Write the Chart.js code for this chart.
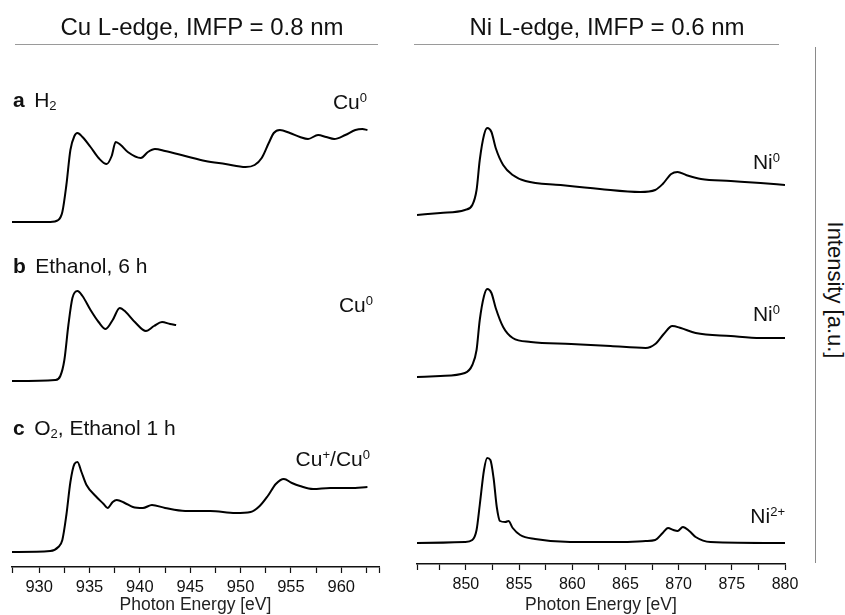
<!DOCTYPE html>
<html lang="en">
<head>
<meta charset="UTF-8">
<title>Cu and Ni L-edge spectra</title>
<script src="https://cdn.jsdelivr.net/npm/chart.js"></script>
<style>
  body { margin: 0; background: #fff; font-family: "Liberation Sans", Arial, sans-serif; color: #111; }
  #page { position: relative; width: 845px; height: 615px; overflow: hidden; }
  canvas { position: absolute; top: 0; }
  .txt { position: absolute; white-space: nowrap; line-height: 1; font-size: 21px; }
  .title { font-size: 24px; transform: translateX(-50%); }
  .rule { position: absolute; height: 1px; background: #9a9a9a; }
  .vline { position: absolute; width: 1px; background: #8a8a8a; }
  sub, sup { font-size: 0.62em; line-height: 0; }
  sub { vertical-align: -0.25em; }
  sup { vertical-align: 0.55em; }
  b { margin-right: 0.45em; }
</style>
</head>
<body>
<div id="page">
  <canvas id="cuChart" width="400" height="615" style="left:0"></canvas>
  <canvas id="niChart" width="400" height="615" style="left:405px"></canvas>

  <div class="txt title" style="left:202px; top:15px">Cu L-edge, IMFP = 0.8 nm</div>
  <div class="txt title" style="left:607px; top:15px">Ni L-edge, IMFP = 0.6 nm</div>
  <div class="rule" style="left:15px; top:44px; width:363px"></div>
  <div class="rule" style="left:414px; top:44px; width:365px"></div>
  <div class="vline" style="left:815px; top:47px; height:516px"></div>

  <div class="txt" style="left:13px; top:89px"><b>a</b>H<sub>2</sub></div>
  <div class="txt" style="right:478px; top:91px">Cu<sup>0</sup></div>
  <div class="txt" style="left:13px; top:255px"><b>b</b>Ethanol, 6 h</div>
  <div class="txt" style="right:472px; top:294px">Cu<sup>0</sup></div>
  <div class="txt" style="left:13px; top:417px"><b>c</b>O<sub>2</sub>, Ethanol 1 h</div>
  <div class="txt" style="right:475px; top:448px">Cu<sup>+</sup>/Cu<sup>0</sup></div>
  <div class="txt" style="right:65px; top:151px">Ni<sup>0</sup></div>
  <div class="txt" style="right:65px; top:303px">Ni<sup>0</sup></div>
  <div class="txt" style="right:60px; top:505px">Ni<sup>2+</sup></div>
  <div class="txt" style="left:835px; top:290px; font-size:22px; transform: translate(-50%, -50%) rotate(90deg)">Intensity [a.u.]</div>
</div>
<script>
// Cu L-edge, photon energy (eV) and intensity (a.u., stacked with offsets)
const cuEnergyA = [927.3, 931.1, 931.9, 932.3, 932.7, 933.1, 933.5, 933.8, 934.3, 935.1, 935.9, 936.7, 937.2, 937.6, 938.1, 938.8, 940.1, 940.8, 941.5, 942.5, 944.5, 946.5, 948.5, 950.5, 951.4, 952.1, 952.8, 953.3, 953.9, 954.9, 955.9, 956.7, 957.7, 958.5, 959.3, 960.4, 961.4, 962.1, 962.6];
const cuIntensityA = [3.45, 3.45, 3.47, 3.55, 3.82, 4.17, 4.31, 4.34, 4.30, 4.20, 4.09, 4.03, 4.11, 4.25, 4.22, 4.15, 4.09, 4.15, 4.18, 4.16, 4.11, 4.06, 4.03, 4.00, 4.02, 4.09, 4.24, 4.34, 4.37, 4.34, 4.30, 4.28, 4.32, 4.30, 4.28, 4.32, 4.37, 4.38, 4.37];

const cuEnergyB = [927.3, 931.6, 932.1, 932.5, 932.9, 933.3, 933.8, 934.3, 935.1, 935.9, 936.6, 937.3, 938.0, 938.6, 939.5, 940.6, 941.4, 942.2, 943.0, 943.6];
const cuIntensityB = [1.86, 1.87, 1.91, 2.07, 2.42, 2.69, 2.76, 2.71, 2.57, 2.45, 2.38, 2.47, 2.59, 2.55, 2.45, 2.36, 2.41, 2.45, 2.43, 2.42];

const cuEnergyC = [927.3, 931.1, 931.9, 932.3, 932.7, 933.1, 933.5, 933.8, 934.2, 934.7, 935.6, 936.4, 936.8, 937.3, 937.7, 938.5, 939.3, 940.3, 941.2, 942.5, 944.5, 947.0, 949.5, 951.0, 951.9, 952.7, 953.5, 954.3, 955.1, 955.9, 957.2, 958.9, 960.9, 962.6];
const cuIntensityC = [0.15, 0.16, 0.20, 0.27, 0.52, 0.85, 1.03, 1.05, 0.95, 0.82, 0.71, 0.63, 0.59, 0.65, 0.67, 0.64, 0.60, 0.59, 0.62, 0.59, 0.56, 0.56, 0.54, 0.55, 0.61, 0.71, 0.83, 0.88, 0.84, 0.81, 0.78, 0.79, 0.79, 0.80];

// Ni L-edge
const niEnergyA = [845.4, 847.6, 849.9, 850.6, 851.0, 851.3, 851.7, 852.0, 852.4, 852.8, 853.5, 854.4, 855.6, 858.9, 862.6, 866.4, 867.8, 868.5, 869.3, 869.9, 870.7, 872.1, 874.9, 877.7, 880.0];
const niIntensityA = [3.49, 3.51, 3.54, 3.59, 3.74, 4.04, 4.29, 4.36, 4.32, 4.16, 3.99, 3.89, 3.83, 3.79, 3.75, 3.72, 3.74, 3.80, 3.90, 3.92, 3.89, 3.85, 3.83, 3.81, 3.79];

const niEnergyB = [845.4, 847.6, 849.9, 850.6, 851.0, 851.3, 851.7, 852.0, 852.4, 852.8, 853.5, 854.4, 856.1, 859.9, 863.6, 866.9, 867.8, 868.6, 869.4, 870.2, 871.6, 874.9, 877.7, 880.0];
const niIntensityB = [1.87, 1.88, 1.91, 1.99, 2.14, 2.44, 2.68, 2.75, 2.71, 2.56, 2.37, 2.26, 2.22, 2.20, 2.18, 2.16, 2.20, 2.30, 2.38, 2.36, 2.31, 2.28, 2.26, 2.26];

const niEnergyC = [845.4, 849.9, 850.6, 851.0, 851.3, 851.7, 852.0, 852.3, 852.6, 852.9, 853.2, 853.7, 854.0, 854.4, 855.1, 856.5, 859.8, 864.5, 866.9, 867.8, 868.5, 869.0, 869.5, 869.9, 870.4, 871.0, 871.6, 873.0, 880.0];
const niIntensityC = [0.21, 0.22, 0.24, 0.34, 0.59, 0.94, 1.06, 1.04, 0.86, 0.57, 0.43, 0.42, 0.43, 0.36, 0.29, 0.25, 0.22, 0.22, 0.23, 0.24, 0.31, 0.36, 0.34, 0.33, 0.37, 0.33, 0.27, 0.22, 0.21];

// tick positions (labels only on multiples of 5)
const cuTicks = [927.3, 930, 932.5, 935, 937.5, 940, 942.5, 945, 947.5, 950, 952.5, 955, 957.5, 960, 962.5, 963.75];
const niTicks = [845.4, 847.5, 850, 852.5, 855, 857.5, 860, 862.5, 865, 867.5, 870, 872.5, 875, 877.5, 880];

function toPoints(xs, ys) {
  return xs.map((x, i) => ({ x: x, y: ys[i] }));
}

function spectrum(xs, ys) {
  return {
    data: toPoints(xs, ys),
    borderColor: '#000',
    borderWidth: 2,
    pointRadius: 0,
    cubicInterpolationMode: 'monotone'
  };
}

function makeChart(id, sets, xMin, xMax, yMax, ticks, axisHeight, fontSize, pad) {
  const ctx = document.getElementById(id).getContext('2d');
  return new Chart(ctx, {
    type: 'line',
    data: { datasets: sets },
    options: {
      responsive: false,
      animation: false,
      devicePixelRatio: 1,
      layout: { padding: pad },
      plugins: { legend: { display: false }, tooltip: { enabled: false } },
      scales: {
        x: {
          type: 'linear',
          min: xMin,
          max: xMax,
          afterBuildTicks: (scale) => { scale.ticks = ticks.map(v => ({ value: v })); },
          afterFit: (scale) => { scale.height = axisHeight; },
          grid: { drawOnChartArea: false, drawTicks: true, tickLength: 6, tickColor: '#111', tickWidth: 1.2 },
          border: { display: true, color: '#111', width: 1.5 },
          ticks: {
            autoSkip: false,
            maxRotation: 0,
            padding: 5,
            color: '#111',
            font: { family: 'Liberation Sans', size: fontSize },
            callback: (value) => (Math.abs(value % 5) < 1e-6 ? String(value) : '')
          },
          title: {
            display: true,
            text: 'Photon Energy [eV]',
            color: '#222',
            padding: { top: 0, bottom: 1 },
            font: { family: 'Liberation Sans', size: 17.5, lineHeight: 1 }
          }
        },
        y: { display: false, min: 0, max: yMax }
      }
    }
  });
}

makeChart('cuChart', [
  spectrum(cuEnergyA, cuIntensityA),
  spectrum(cuEnergyB, cuIntensityB),
  spectrum(cuEnergyC, cuIntensityC)
], 927.3, 963.75, 5.17, cuTicks, 48, 16.5, { left: 12, right: 21, top: 50, bottom: 0 });

makeChart('niChart', [
  spectrum(niEnergyA, niIntensityA),
  spectrum(niEnergyB, niIntensityB),
  spectrum(niEnergyC, niIntensityC)
], 845.4, 880, 5.14, niTicks, 51, 16, { left: 12, right: 20, top: 50, bottom: 0 });
</script>
</body>
</html>
